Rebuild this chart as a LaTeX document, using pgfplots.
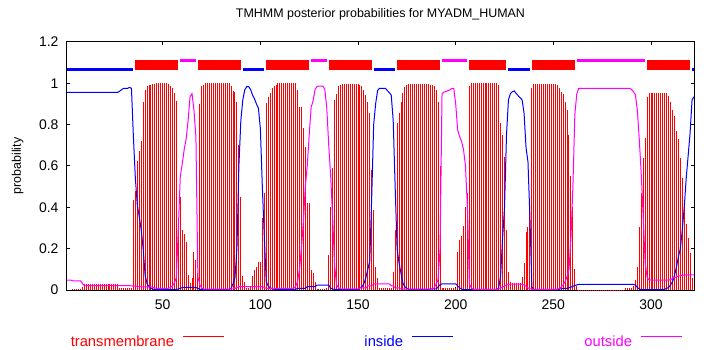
\documentclass[border=0pt]{standalone}
\usepackage{pgfplots}
\pgfplotsset{compat=1.18}
\usepackage{pgfplotstable}
\usepackage{fontspec}
\setmainfont{Liberation Sans}
\definecolor{tmred}{RGB}{255,0,0}
\definecolor{inblue}{RGB}{0,0,255}
\definecolor{outmag}{RGB}{255,0,255}

\pgfplotstableread{
r in out tm
1 .956 .048 0
2 .956 .048 0
3 .956 .048 0
4 .956 .044 .005
5 .956 .044 .005
6 .956 .044 .005
7 .956 .044 .005
8 .956 .044 .005
9 .956 .030 .015
10 .956 .021 .029
11 .956 .021 .029
12 .956 .021 .029
13 .956 .021 .029
14 .956 .021 .029
15 .956 .021 .029
16 .956 .021 .029
17 .956 .021 .029
18 .956 .021 .029
19 .956 .021 .029
20 .956 .021 .029
21 .956 .021 .029
22 .956 .021 .029
23 .956 .021 .029
24 .956 .021 .029
25 .956 .021 .029
26 .956 .021 .029
27 .956 .021 .029
28 .962 .021 .012
29 .970 .021 .008
30 .976 .021 .008
31 .976 .021 .008
32 .976 .021 .008
33 .980 .021 .008
34 .976 .020 .008
35 .740 .019 .435
36 .540 .018 .479
37 .410 .017 .626
38 .355 .016 .674
39 .290 .016 .721
40 .200 .015 .911
41 .070 .015 .968
42 .030 .015 .989
43 .016 .015 .992
44 .008 .015 .992
45 .004 .012 .995
46 .002 .010 .997
47 .002 .008 1
48 .002 .008 1
49 .002 .008 1
50 .002 .008 1
51 .002 .008 1
52 .002 .008 1
53 .002 .008 .995
54 .002 .012 .987
55 .002 .020 .975
56 .002 .035 .955
57 .003 .060 .914
58 .005 .300 .330
59 .008 .550 .450
60 .012 .610 .290
61 .013 .680 .270
62 .013 .730 .234
63 .013 .820 .073
64 .013 .935 .032
65 .013 .950 .056
66 .013 .870 .185
67 .012 .740 .145
68 .008 .064 .080
69 .004 .025 .900
70 .002 .010 .987
71 .002 .005 .992
72 .002 .004 1
73 .002 .004 1
74 .002 .004 1
75 .002 .004 1
76 .002 .004 1
77 .002 .004 1
78 .002 .004 1
79 .002 .004 1
80 .002 .004 1
81 .002 .004 1
82 .002 .004 1
83 .002 .004 1
84 .002 .004 1
85 .008 .006 .987
86 .030 .006 .964
87 .060 .008 .960
88 .200 .012 .910
89 .600 .016 .700
90 .820 .016 .450
91 .920 .016 .070
92 .968 .016 .040
93 .984 .016 .010
94 .984 .016 .010
95 .970 .016 .020
96 .943 .016 .068
97 .925 .016 .097
98 .900 .016 .113
99 .880 .016 .137
100 .780 .016 .137
101 .500 .016 .350
102 .260 .012 .470
103 .040 .008 .903
104 .020 .008 .935
105 .010 .008 .951
106 .006 .008 .976
107 .004 .008 .987
108 .003 .008 .992
109 .002 .008 1
110 .002 .008 1
111 .002 .008 1
112 .002 .008 1
113 .002 .008 1
114 .002 .008 1
115 .002 .008 1
116 .002 .008 1
117 .002 .008 1
118 .003 .016 1
119 .008 .040 .968
120 .008 .097 .887
121 .008 .200 .887
122 .008 .330 .782
123 .008 .500 .694
124 .016 .600 .420
125 .016 .750 .420
126 .016 .885 .097
127 .016 .915 .081
128 .016 .970 .040
129 .024 .985 .005
130 .024 .987 .005
131 .024 .987 .005
132 .024 .987 .005
133 .024 .970 .005
134 .024 .880 .010
135 .024 .700 .169
136 .008 .550 .403
137 .005 .350 .589
138 .003 .120 .919
139 .002 .025 .948
140 .002 .010 .987
141 .002 .006 .992
142 .002 .006 .997
143 .002 .006 .997
144 .002 .006 .997
145 .002 .006 .997
146 .002 .006 .997
147 .002 .006 .997
148 .002 .006 .997
149 .002 .006 .997
150 .002 .006 .997
151 .010 .010 .992
152 .016 .010 .987
153 .030 .010 .968
154 .060 .010 .943
155 .100 .020 .911
156 .140 .020 .855
157 .450 .020 .581
158 .800 .030 .387
159 .900 .030 .113
160 .965 .030 .060
161 .976 .030 .010
162 .976 .030 .010
163 .976 .030 .010
164 .976 .030 .010
165 .965 .030 .010
166 .955 .030 .010
167 .943 .020 .010
168 .820 .020 .089
169 .500 .010 .290
170 .200 .010 .806
171 .130 .010 .855
172 .080 .005 .911
173 .032 .005 .955
174 .016 .004 .984
175 .008 .004 .992
176 .003 .004 .997
177 .003 .004 .997
178 .003 .004 .997
179 .003 .004 .997
180 .003 .004 .997
181 .003 .004 .997
182 .003 .004 .997
183 .003 .004 .997
184 .003 .004 .997
185 .003 .004 .997
186 .003 .004 .997
187 .005 .004 .992
188 .005 .004 .990
189 .005 .010 .987
190 .005 .030 .970
191 .015 .050 .910
192 .025 .200 .600
193 .030 .950 .010
194 .030 .958 .008
195 .030 .960 .008
196 .030 .965 .008
197 .030 .968 .008
198 .030 .976 .008
199 .030 .976 .008
200 .030 .900 .008
201 .020 .774 .185
202 .010 .742 .242
203 .005 .720 .260
204 .002 .680 .310
205 .002 .600 .400
206 .002 .400 .468
207 .002 .030 .987
208 .002 .010 1
209 .002 .003 1
210 .002 .003 1
211 .002 .003 1
212 .002 .003 1
213 .002 .003 1
214 .002 .003 1
215 .002 .003 1
216 .002 .003 1
217 .002 .003 1
218 .002 .003 1
219 .002 .003 1
220 .002 .003 1
221 .002 .003 1
222 .010 .005 .990
223 .070 .010 .806
224 .250 .014 .750
225 .400 .020 .645
226 .750 .024 .290
227 .920 .027 .089
228 .950 .029 .040
229 .960 .029 .035
230 .963 .029 .035
231 .950 .029 .035
232 .940 .029 .035
233 .930 .029 .035
234 .920 .027 .065
235 .855 .024 .130
236 .690 .018 .282
237 .620 .010 .306
238 .350 .006 .379
239 .015 .003 .976
240 .002 .003 .997
241 .002 .003 .997
242 .002 .003 .997
243 .002 .003 .997
244 .002 .003 .997
245 .002 .003 .997
246 .002 .003 .997
247 .002 .003 .997
248 .002 .003 .997
249 .002 .003 .997
250 .002 .003 .997
251 .002 .003 .997
252 .002 .003 .990
253 .004 .008 .976
254 .006 .015 .960
255 .008 .025 .950
256 .008 .040 .910
257 .008 .065 .870
258 .011 .100 .750
259 .014 .250 .550
260 .018 .500 .400
261 .022 .850 .100
262 .025 .950 .020
263 .027 .976 .001
264 .027 .976 .001
265 .027 .976 .001
266 .027 .976 .001
267 .027 .976 .001
268 .027 .976 .001
269 .027 .976 .001
270 .027 .976 .001
271 .027 .976 .001
272 .027 .976 .001
273 .027 .976 .001
274 .027 .976 .001
275 .027 .976 .001
276 .027 .976 .001
277 .027 .976 .001
278 .027 .976 .001
279 .027 .976 .001
280 .027 .976 .001
281 .027 .976 .001
282 .027 .976 .001
283 .027 .976 .001
284 .027 .976 .001
285 .027 .976 .001
286 .027 .976 .001
287 .027 .976 .008
288 .027 .976 .008
289 .027 .976 .010
290 .027 .970 .010
291 .027 .960 .020
292 .024 .944 .050
293 .012 .870 .113
294 .005 .726 .306
295 .002 .560 .468
296 .002 .350 .637
297 .002 .130 .734
298 .002 .060 .935
299 .002 .050 .952
300 .002 .048 .952
301 .002 .048 .952
302 .002 .048 .952
303 .002 .048 .952
304 .002 .048 .952
305 .002 .048 .952
306 .002 .048 .952
307 .004 .048 .952
308 .008 .048 .952
309 .012 .048 .940
310 .025 .050 .910
311 .040 .056 .870
312 .070 .060 .840
313 .110 .064 .770
314 .160 .067 .730
315 .200 .069 .640
316 .290 .071 .540
317 .400 .072 .400
318 .540 .073 .320
319 .650 .073 .250
320 .760 .073 .180
321 .920 .073 .060
322 .935 .073 .030
}\probs

\begin{document}
\begin{tikzpicture}
\begin{axis}[
  name=ax,
  scale only axis, width=627bp, height=248bp,
  xmin=1, xmax=322, ymin=0, ymax=1.2,
  xtick={50,100,150,200,250,300},
  ytick={0,0.2,0.4,0.6,0.8,1,1.2},
  tick align=inside,
  major tick length=3.5bp,
  axis line style={line width=1bp},
  tick style={black, line width=1bp},
  /pgf/number format/assume math mode=true,
  tick label style={font=\fontsize{14}{16}\selectfont},
  xticklabel style={yshift=-6bp},
  yticklabel style={xshift=-5bp},
  title={TMHMM posterior probabilities for MYADM\_HUMAN},
  title style={font=\fontsize{12.5}{14}\selectfont, at={(axis description cs:0.5,1)}, anchor=base, yshift=19bp},
  ylabel={probability},
  ylabel style={font=\fontsize{12.5}{14}\selectfont, at={(axis description cs:-0.0734,0.5)}, anchor=base},
  legend columns=3,
  legend plot pos=right,
  legend style={draw=none, fill=none, inner sep=0pt, outer sep=0pt, nodes={inner sep=0pt, outer sep=0pt},
    at={(axis description cs:-0.0207,-0.208)}, anchor=west,
    font=\fontsize{14.8}{17}\selectfont,
    /tikz/every even column/.append style={column sep=59bp}},
]
\addplot[tmred, ycomb, line width=1bp,
  legend image code/.code={\path (0bp,0bp); \draw[tmred, line width=1bp] (8bp,5bp) -- (49bp,5bp);}]
  table[x=r, y=tm] {\probs};
\addlegendentry{\makebox[120bp][r]{\textcolor{tmred}{transmembrane}}}
\addplot[inblue, line width=1bp,
  legend image code/.code={\path (0bp,0bp); \draw[inblue, line width=1bp] (8bp,5bp) -- (49bp,5bp);}]
  table[x=r, y=in] {\probs};
\addlegendentry{\makebox[120bp][r]{\textcolor{inblue}{inside}}}
\addplot[outmag, line width=1bp,
  legend image code/.code={\path (0bp,0bp); \draw[outmag, line width=1bp] (8bp,5bp) -- (49bp,5bp);}]
  table[x=r, y=out] {\probs};
\addlegendentry{\makebox[120bp][r]{\textcolor{outmag}{outside}}}

% predicted topology
\addplot[inblue, line width=2.7bp, forget plot] coordinates {(1,1.068) (35,1.068)};
\addplot[inblue, line width=2.7bp, forget plot] coordinates {(91,1.068) (102,1.068)};
\addplot[inblue, line width=2.7bp, forget plot] coordinates {(158,1.068) (169,1.068)};
\addplot[inblue, line width=2.7bp, forget plot] coordinates {(227,1.068) (238,1.068)};
\addplot[inblue, line width=2.7bp, forget plot] coordinates {(321,1.068) (322,1.068)};
\addplot[outmag, line width=2.7bp, forget plot] coordinates {(59,1.111) (67,1.111)};
\addplot[outmag, line width=2.7bp, forget plot] coordinates {(126,1.111) (134,1.111)};
\addplot[outmag, line width=2.7bp, forget plot] coordinates {(193,1.111) (206,1.111)};
\addplot[outmag, line width=2.7bp, forget plot] coordinates {(262,1.111) (297,1.111)};
\addplot[fill=tmred, draw=none, forget plot] coordinates {(36,1.066) (58,1.066) (58,1.113) (36,1.113)};
\addplot[fill=tmred, draw=none, forget plot] coordinates {(68,1.066) (90,1.066) (90,1.113) (68,1.113)};
\addplot[fill=tmred, draw=none, forget plot] coordinates {(103,1.066) (125,1.066) (125,1.113) (103,1.113)};
\addplot[fill=tmred, draw=none, forget plot] coordinates {(135,1.066) (157,1.066) (157,1.113) (135,1.113)};
\addplot[fill=tmred, draw=none, forget plot] coordinates {(170,1.066) (192,1.066) (192,1.113) (170,1.113)};
\addplot[fill=tmred, draw=none, forget plot] coordinates {(207,1.066) (226,1.066) (226,1.113) (207,1.113)};
\addplot[fill=tmred, draw=none, forget plot] coordinates {(239,1.066) (261,1.066) (261,1.113) (239,1.113)};
\addplot[fill=tmred, draw=none, forget plot] coordinates {(298,1.066) (320,1.066) (320,1.113) (298,1.113)};
\end{axis}
\pgfresetboundingbox
\path[use as bounding box] ([xshift=-67bp,yshift=-60bp]ax.south west) rectangle ([xshift=16bp,yshift=42bp]ax.north east);
\end{tikzpicture}
\end{document}
